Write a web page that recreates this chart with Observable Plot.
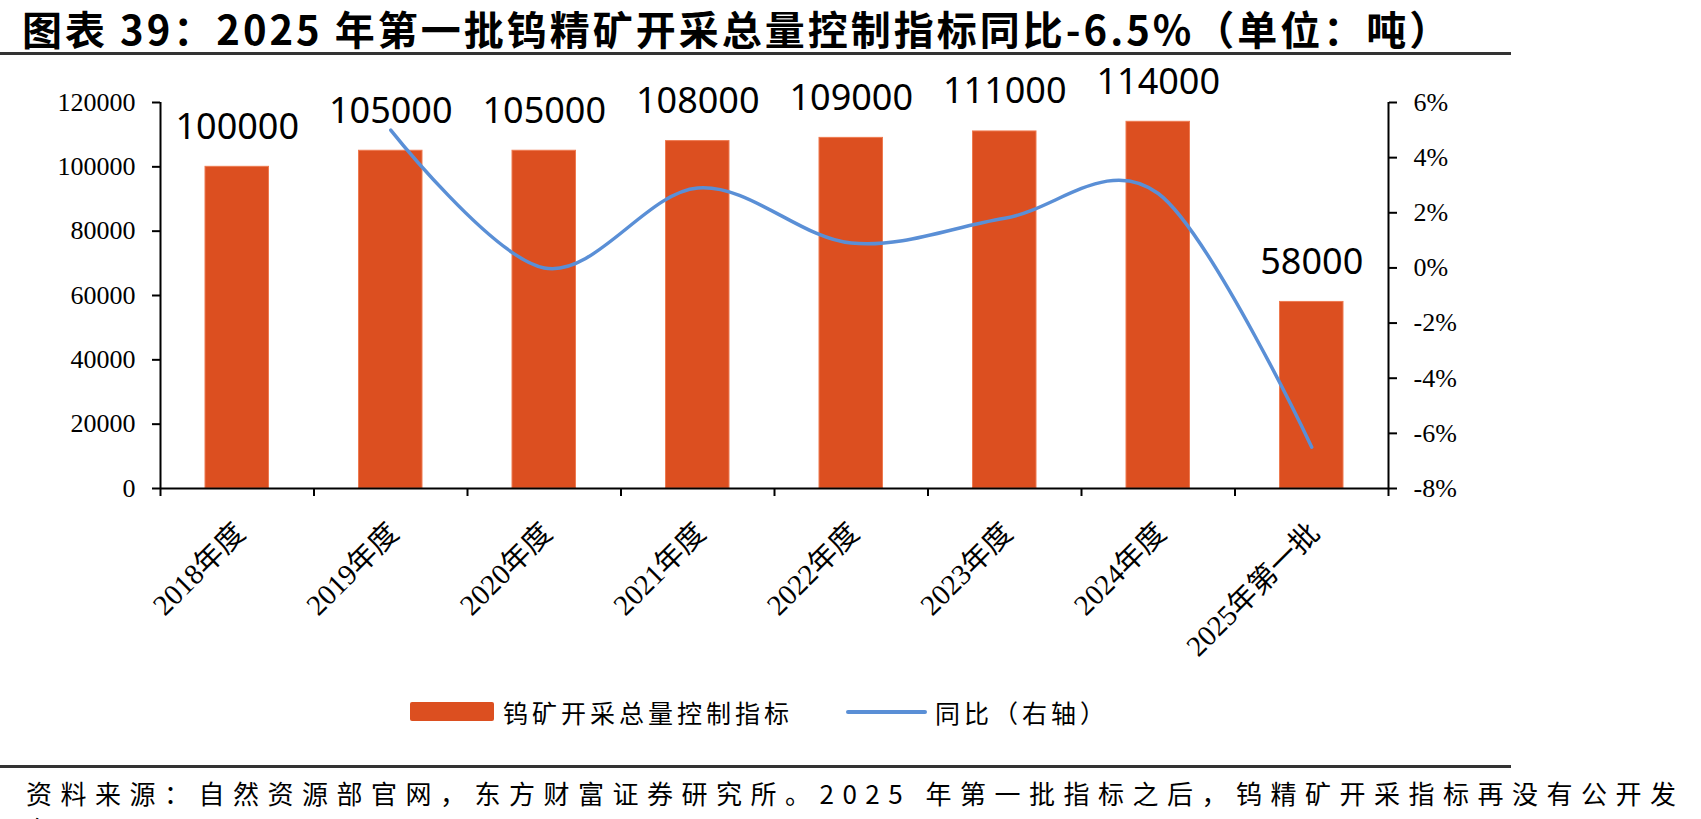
<!DOCTYPE html>
<html>
<head>
<meta charset="utf-8">
<script src="https://cdn.jsdelivr.net/npm/d3@7"></script>
<script src="https://cdn.jsdelivr.net/npm/@observablehq/plot@0.6"></script>
<style>
  html, body { margin: 0; padding: 0; background: #fff; width: 1701px; height: 819px; overflow: hidden; position: relative; }
  .abs { position: absolute; }
  #title { left: 22px; top: 7px; font-family: "Noto Sans CJK SC", sans-serif; font-weight: 700; font-size: 40px; line-height: 42px; color: #000; white-space: nowrap; letter-spacing: 3px; }
  #rule1 { left: 0; top: 52px; width: 1511px; height: 3px; background: #333; }
  #chart { left: 0; top: 60px; }
  .legtext { font-family: "Noto Sans CJK SC", sans-serif; font-size: 25px; line-height: 30px; color: #000; letter-spacing: 4px; white-space: nowrap; }
  #rule2 { left: 0; top: 765px; width: 1511px; height: 3px; background: #333; }
  #foot { left: 26px; top: 775px; width: 1660px; font-family: "Noto Sans CJK SC", sans-serif; font-size: 26px; line-height: 36px; letter-spacing: 8.5px; color: #000; }
</style>
</head>
<body>
<div id="title" class="abs">图表 39：2025 年第一批钨精矿开采总量控制指标同比-6.5%（单位：吨）</div>
<div id="rule1" class="abs"></div>
<div id="chart" class="abs"></div>
<div id="legend"></div>
<div id="rule2" class="abs"></div>
<div id="foot" class="abs">资料来源：自然资源部官网，东方财富证券研究所。2025 年第一批指标之后，钨精矿开采指标再没有公开发布。</div>
<script>
const categories = ["2018年度","2019年度","2020年度","2021年度","2022年度","2023年度","2024年度","2025年第一批"];
const quota = [100000, 105000, 105000, 108000, 109000, 111000, 114000, 58000];
const yoy = [null, 5.0, 0.0, 2.9, 0.9, 1.8, 2.7, -6.5];
const leftTicks = [0, 20000, 40000, 60000, 80000, 100000, 120000];
const rightTicks = [-8, -6, -4, -2, 0, 2, 4, 6];
const seriesNames = ["钨矿开采总量控制指标", "同比（右轴）"];

const barColor = "#dc4f20";
const lineColor = "#5a8fd6";

const L = [leftTicks[0], leftTicks[leftTicks.length - 1]];
const R = [rightTicks[0], rightTicks[rightTicks.length - 1]];
const toLeft = p => (p - R[0]) / (R[1] - R[0]) * (L[1] - L[0]) + L[0];
const fromLeft = v => (v - L[0]) / (L[1] - L[0]) * (R[1] - R[0]) + R[0];

const bars = categories.map((c, i) => ({i, c, v: quota[i]}));
const line = categories.map((c, i) => ({i, p: yoy[i]})).filter(d => d.p != null);

const serif = "'Liberation Serif', 'Times New Roman', 'Noto Sans CJK SC', serif";

const chart = Plot.plot({
  width: 1701,
  height: 600,
  marginLeft: 160,
  marginRight: 313,
  marginTop: 42,
  marginBottom: 172,
  style: {fontFamily: serif, fontSize: "26px", color: "#000", background: "transparent", overflow: "visible"},
  x: {type: "linear", domain: [0, categories.length], axis: null},
  y: {domain: L, axis: null},
  marks: [
    Plot.rectY(bars, {x1: d => d.i, x2: d => d.i + 1, y: "v", fill: barColor, stroke: "#ee7a50", strokeWidth: 1, insetLeft: 45, insetRight: 45}),
    Plot.ruleY([0], {stroke: "#000", strokeWidth: 2}),
    Plot.ruleX([0, categories.length], {stroke: "#000", strokeWidth: 2}),
    Plot.axisX({ticks: d3.range(categories.length + 1), tickSize: 8, tickFormat: () => "", label: null, stroke: "#000", strokeWidth: 2}),
    Plot.axisY({anchor: "left", ticks: leftTicks, tickSize: 8, tickPadding: 17, tickFormat: d => String(d), label: null, fontSize: 26, fontFamily: serif, stroke: "#000", strokeWidth: 2}),
    Plot.axisY({anchor: "right", ticks: rightTicks.map(toLeft), tickSize: 8, tickPadding: 17, tickFormat: v => Math.round(fromLeft(v)) + "%", label: null, fontSize: 26, fontFamily: serif, stroke: "#000", strokeWidth: 2}),
    Plot.line(line, {x: d => d.i + 0.5, y: d => toLeft(d.p), stroke: lineColor, strokeWidth: 3.5, curve: "cardinal", strokeLinecap: "round"}),
    Plot.text(bars, {x: d => d.i + 0.5, y: "v", text: d => String(d.v), dy: -28, lineAnchor: "bottom", fontSize: 36, fontFamily: "'Noto Sans', 'Open Sans', sans-serif", fill: "#000"}),
    Plot.text(bars, {x: d => d.i + 0.5, y: () => 0, text: "c", rotate: -45, textAnchor: "end", dx: 3, dy: 40, fontSize: 29, fontFamily: serif, fill: "#000"})
  ]
});
document.getElementById("chart").appendChild(chart);

// legend
const leg = document.getElementById("legend");
function add(html, style) {
  const d = document.createElement("div");
  d.className = "abs";
  Object.assign(d.style, style);
  d.innerHTML = html;
  leg.appendChild(d);
  return d;
}
add("", {left: "410px", top: "702px", width: "84px", height: "19px", background: barColor, borderRadius: "2px"});
const t1 = add(seriesNames[0], {left: "503px", top: "697px"}); t1.className += " legtext";
add("", {left: "846px", top: "710px", width: "81px", height: "4px", background: lineColor, borderRadius: "2px"});
const t2 = add(seriesNames[1], {left: "935px", top: "697px"}); t2.className += " legtext";
</script>
</body>
</html>
